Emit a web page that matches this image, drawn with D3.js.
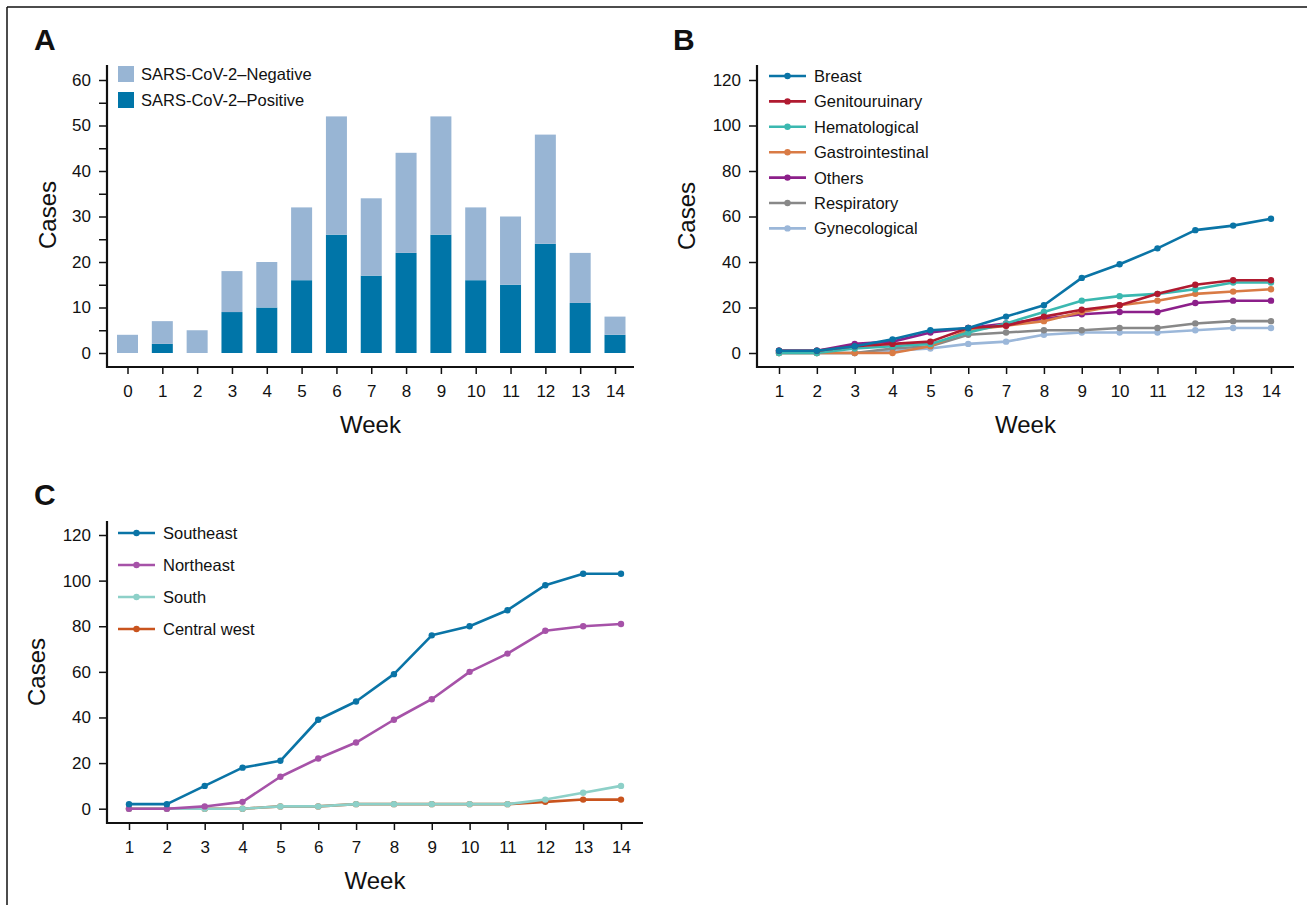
<!DOCTYPE html>
<html>
<head>
<meta charset="utf-8">
<script src="https://d3js.org/d3.v7.min.js"></script>
<style>
    body { margin: 0; background: #fff; }
    svg text { font-family: 'Liberation Sans', Arial, sans-serif; fill: #111; }
    .axis text { font-size: 17px; }
    .axis line { stroke: #111; stroke-width: 1.5px; }
    .legend text { font-size: 16.5px; }
    .title { font-size: 24px; }
    .panel { font-size: 30px; font-weight: bold; }
</style>
</head>
<body>
<svg id="chart" width="1307" height="905"></svg>
<script>
// panel A: weekly cases by SARS-CoV-2 status
var weeksA = [0, 1, 2, 3, 4, 5, 6, 7, 8, 9, 10, 11, 12, 13, 14];
var positive = [0, 2, 0, 9, 10, 16, 26, 17, 22, 26, 16, 15, 24, 11, 4];
var negative = [4, 5, 5, 9, 10, 16, 26, 17, 22, 26, 16, 15, 24, 11, 4];
var statusNames = ["SARS-CoV-2\u2013Negative", "SARS-CoV-2\u2013Positive"];
var statusColors = ["#98b5d4", "#0075a8"];

// panel B: cumulative cases by tumour site
var weeks = [1, 2, 3, 4, 5, 6, 7, 8, 9, 10, 11, 12, 13, 14];
var siteNames = ["Breast", "Genitouruinary", "Hematological", "Gastrointestinal", "Others", "Respiratory", "Gynecological"];
var siteColors = ["#0a74a6", "#b01a30", "#3bb8b0", "#d97b45", "#8c1f8a", "#888888", "#9bb7d9"];
var breast = [1, 1, 3, 6, 10, 11, 16, 21, 33, 39, 46, 54, 56, 59];
var genito = [1, 1, 3, 4, 5, 11, 12, 16, 19, 21, 26, 30, 32, 32];
var hemato = [0, 0, 2, 3, 4, 9, 13, 18, 23, 25, 26, 28, 31, 31];
var gastro = [0, 0, 0, 0, 3, 10, 12, 14, 18, 21, 23, 26, 27, 28];
var others = [1, 1, 4, 5, 9, 11, 13, 15, 17, 18, 18, 22, 23, 23];
var respiratory = [0, 0, 0, 2, 3, 8, 9, 10, 10, 11, 11, 13, 14, 14];
var gyneco = [0, 0, 0, 1, 2, 4, 5, 8, 9, 9, 9, 10, 11, 11];

// panel C: cumulative cases by region
var regionNames = ["Southeast", "Northeast", "South", "Central west"];
var regionColors = ["#0a74a6", "#a652a8", "#8dd0c8", "#c9541e"];
var southeast = [2, 2, 10, 18, 21, 39, 47, 59, 76, 80, 87, 98, 103, 103];
var northeast = [0, 0, 1, 3, 14, 22, 29, 39, 48, 60, 68, 78, 80, 81];
var south = [0, 0, 0, 0, 1, 1, 2, 2, 2, 2, 2, 4, 7, 10];
var centralWest = [0, 0, 0, 0, 1, 1, 2, 2, 2, 2, 2, 3, 4, 4];

var svg = d3.select("#chart");

// frame on top and left
svg.append("line").attr("x1", 7).attr("x2", 1307).attr("y1", 7).attr("y2", 7)
    .attr("stroke", "#111").attr("stroke-width", 1.5);
svg.append("line").attr("x1", 7).attr("x2", 7).attr("y1", 7).attr("y2", 905)
    .attr("stroke", "#111").attr("stroke-width", 1.5);

// shared axis drawing
function drawAxes(g, x, y, box, xTicks, yTicks, yFormat) {
    var ya = g.append("g").attr("class", "axis")
        .attr("transform", "translate(" + box.left + ",0)")
        .call(d3.axisLeft(y).tickValues(yTicks).tickSize(8).tickPadding(8).tickFormat(yFormat));
    ya.select(".domain").remove();
    var xa = g.append("g").attr("class", "axis")
        .attr("transform", "translate(0," + box.bottom + ")")
        .call(d3.axisBottom(x).tickValues(xTicks).tickSize(7).tickPadding(11));
    xa.select(".domain").remove();
    g.append("path")
        .attr("d", "M" + box.left + "," + box.top + "V" + box.bottom + "H" + box.right)
        .attr("fill", "none").attr("stroke", "#111").attr("stroke-width", 2.2);
    g.append("text").attr("class", "title")
        .attr("x", (box.left + box.right) / 2).attr("y", box.bottom + 66)
        .attr("text-anchor", "middle").text("Week");
    g.append("text").attr("class", "title")
        .attr("transform", "translate(" + box.casesX + "," + box.casesY + ") rotate(-90)")
        .attr("text-anchor", "middle").text("Cases");
    g.append("text").attr("class", "panel")
        .attr("x", box.labelX).attr("y", box.labelY).text(box.label);
}

function drawLines(g, x, y, series, colors) {
    var line = d3.line()
        .x(function(d, i) { return x(weeks[i]); })
        .y(function(d) { return y(d); });
    // draw last series first so the first sits on top
    for (var s = series.length - 1; s >= 0; s--) {
        g.append("path").datum(series[s])
            .attr("fill", "none").attr("stroke", colors[s])
            .attr("stroke-width", 2.6).attr("stroke-linejoin", "round")
            .attr("d", line);
        g.selectAll(null).data(series[s]).enter().append("circle")
            .attr("cx", function(d, i) { return x(weeks[i]); })
            .attr("cy", function(d) { return y(d); })
            .attr("r", 3.2).attr("fill", colors[s]);
    }
}

function drawLineLegend(g, names, colors, x0, y0, step) {
    var leg = g.selectAll(".legend-row").data(names).enter().append("g")
        .attr("class", "legend")
        .attr("transform", function(d, i) { return "translate(" + x0 + "," + (y0 + i * step) + ")"; });
    leg.append("line").attr("x1", 0).attr("x2", 37).attr("y1", 0).attr("y2", 0)
        .attr("stroke", function(d, i) { return colors[i]; }).attr("stroke-width", 2.6);
    leg.append("circle").attr("cx", 18.5).attr("cy", 0).attr("r", 3.2)
        .attr("fill", function(d, i) { return colors[i]; });
    leg.append("text").attr("x", 45).attr("y", 0).attr("dy", "0.36em")
        .text(function(d) { return d; });
}

// ---- panel A ----
(function() {
    var g = svg.append("g");
    var x = d3.scaleLinear().domain([0, 14]).range([127.5, 615]);
    var y = d3.scaleLinear().domain([0, 60]).range([353, 80]);
    var bw = 21;

    g.selectAll(".pos").data(positive).enter().append("rect")
        .attr("x", function(d, i) { return x(weeksA[i]) - bw / 2; })
        .attr("y", function(d) { return y(d); })
        .attr("width", bw)
        .attr("height", function(d) { return y(0) - y(d); })
        .attr("fill", statusColors[1]);
    g.selectAll(".neg").data(negative).enter().append("rect")
        .attr("x", function(d, i) { return x(weeksA[i]) - bw / 2; })
        .attr("y", function(d, i) { return y(positive[i] + d); })
        .attr("width", bw)
        .attr("height", function(d) { return y(0) - y(d); })
        .attr("fill", statusColors[0]);

    drawAxes(g, x, y,
        {left: 107, right: 634, top: 65, bottom: 367, casesX: 56, casesY: 215, labelX: 34, labelY: 50, label: "A"},
        weeksA, d3.range(0, 61, 5), function(d) { return d % 10 === 0 ? d : ""; });

    var leg = g.selectAll(".legA").data(statusNames).enter().append("g")
        .attr("class", "legend")
        .attr("transform", function(d, i) { return "translate(118," + (66 + i * 26) + ")"; });
    leg.append("rect").attr("width", 16).attr("height", 16)
        .attr("fill", function(d, i) { return statusColors[i]; });
    leg.append("text").attr("x", 23).attr("y", 8).attr("dy", "0.36em")
        .text(function(d) { return d; });
})();

// ---- panel B ----
(function() {
    var g = svg.append("g");
    var x = d3.scaleLinear().domain([1, 14]).range([779, 1271]);
    var y = d3.scaleLinear().domain([0, 120]).range([353, 80]);
    drawAxes(g, x, y,
        {left: 757, right: 1294, top: 65, bottom: 367, casesX: 695, casesY: 216, labelX: 673, labelY: 50, label: "B"},
        weeks, d3.range(0, 121, 20), function(d) { return d; });
    drawLines(g, x, y, [breast, genito, hemato, gastro, others, respiratory, gyneco], siteColors);
    drawLineLegend(g, siteNames, siteColors, 769, 76, 25.4);
})();

// ---- panel C ----
(function() {
    var g = svg.append("g");
    var x = d3.scaleLinear().domain([1, 14]).range([129, 621]);
    var y = d3.scaleLinear().domain([0, 120]).range([808.7, 535]);
    drawAxes(g, x, y,
        {left: 107, right: 643, top: 521, bottom: 823, casesX: 45, casesY: 672, labelX: 34, labelY: 505, label: "C"},
        weeks, d3.range(0, 121, 20), function(d) { return d; });
    drawLines(g, x, y, [southeast, northeast, south, centralWest], regionColors);
    drawLineLegend(g, regionNames, regionColors, 118, 533, 32);
})();
</script>
</body>
</html>
